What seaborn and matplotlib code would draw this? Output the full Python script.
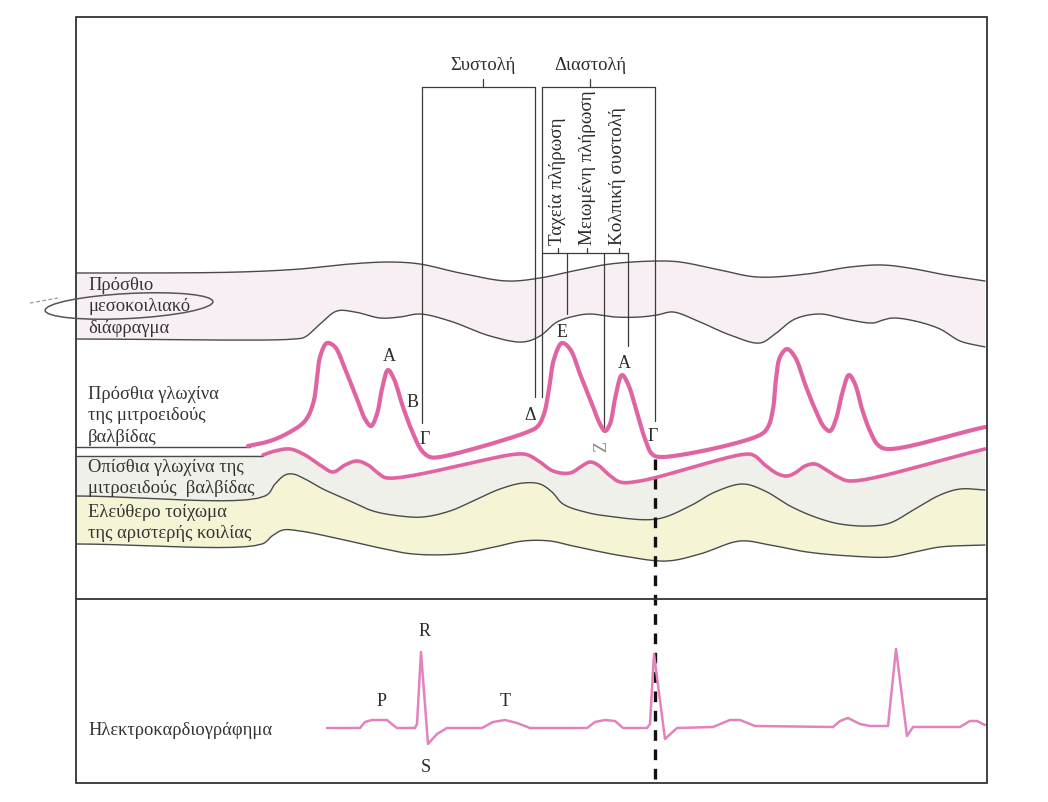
import numpy as np
import pandas as pd
import matplotlib
matplotlib.use("Agg")
import matplotlib.pyplot as plt
from matplotlib.patches import Ellipse, Rectangle
import seaborn as sns

# ---- traced outlines (x, y in drawing units; y grows downwards) ----
septum_top_x = [77, 150, 240, 300, 350, 390, 420, 460, 507, 540, 573, 610, 657, 680, 720, 757, 807, 850, 883, 915, 940, 985]
septum_top_y = [274, 274, 273, 270, 265, 263, 265, 274, 282, 279, 272, 265, 262, 263, 271, 278, 275, 268, 266, 270, 275, 282]

septum_bot_x = [77, 295, 305, 320, 337, 355, 380, 400, 420, 450, 490, 523, 540, 557, 575, 590, 615, 640, 657, 673, 700, 730, 760, 775, 795, 820, 845, 873, 883, 893, 915, 940, 960, 985]
septum_bot_y = [340, 340, 338, 325, 312, 313, 319, 318, 315, 322, 337, 343, 337, 323, 317, 315, 318, 318, 316, 313, 323, 336, 344, 335, 320, 315, 320, 324, 321, 319, 322, 330, 342, 348]

anterior_x = [248, 270, 290, 305, 313, 317, 320, 327, 335, 345, 357, 365, 371, 377, 382, 388, 394, 402, 412, 422, 430, 440,
              530, 538, 544, 549, 554, 562, 570, 580, 592, 600, 605, 610, 615, 622, 628, 636, 645, 652, 660,
              760, 768, 773, 776, 780, 787, 795, 805, 815, 824, 830, 836, 842, 849, 855, 862, 870, 878, 887, 985]
anterior_y = [447, 442, 433, 422, 405, 380, 358, 344, 348, 370, 400, 420, 427, 415, 390, 371, 380, 405, 432, 452, 458, 458,
              432, 427, 415, 390, 360, 344, 350, 375, 405, 425, 432, 425, 400, 376, 385, 410, 440, 455, 458,
              436, 428, 410, 380, 358, 350, 358, 385, 410, 428, 432, 420, 395, 376, 385, 410, 432, 446, 450, 428]

posterior_x = [263, 275, 290, 305, 320, 333, 345, 357, 368, 378, 387, 517, 528, 540, 553, 570, 582, 590, 598, 608, 620, 640,
               747, 755, 765, 778, 787, 795, 805, 815, 825, 838, 850, 985]
posterior_y = [456, 452, 450, 456, 466, 473, 466, 462, 466, 474, 479, 455, 456, 463, 472, 474, 467, 463, 466, 475, 483, 482,
               455, 457, 466, 475, 477, 474, 467, 465, 470, 478, 482, 450]

wall_top_x = [77, 265, 275, 285, 293, 305, 323, 350, 373, 400, 423, 450, 473, 500, 523, 540, 552, 563, 585, 607, 657, 690, 715, 743, 765, 790, 815, 840, 870, 890, 915, 940, 960, 985]
wall_top_y = [497, 497, 485, 476, 475, 480, 490, 502, 512, 517, 518, 512, 502, 490, 484, 485, 493, 505, 513, 517, 520, 507, 493, 485, 492, 507, 518, 525, 527, 524, 510, 496, 490, 491]

wall_bot_x = [77, 262, 272, 283, 300, 340, 380, 413, 457, 490, 523, 550, 573, 623, 667, 700, 740, 770, 807, 850, 890, 915, 940, 985]
wall_bot_y = [545, 545, 537, 531, 532, 540, 549, 555, 555, 549, 542, 542, 547, 557, 562, 555, 542, 546, 553, 557, 558, 553, 548, 546]

ecg_x = [327, 360, 365, 372, 387, 393, 397, 415, 417, 421, 428, 437, 447, 482, 493, 505, 517, 530, 587, 595, 605, 615, 623,
         647, 650, 654, 665, 677, 713, 730, 740, 755, 833, 840, 848, 860, 870, 888, 896, 907, 913, 960, 970, 977, 985]
ecg_y = [729, 729, 723, 721, 721, 726, 729, 729, 725, 653, 745, 735, 729, 729, 723, 721, 724, 729, 729, 723, 721, 722, 729,
         729, 725, 655, 740, 729, 728, 721, 721, 727, 728, 722, 719, 725, 727, 727, 650, 737, 728, 728, 722, 722, 726]

row_labels = ["Πρόσθιο\nμεσοκοιλιακό\nδιάφραγμα",
              "Πρόσθια γλωχίνα\nτης μιτροειδούς\nβαλβίδας",
              "Οπίσθια γλωχίνα της\nμιτροειδούς  βαλβίδας",
              "Ελεύθερο τοίχωμα\nτης αριστερής κοιλίας",
              "Ηλεκτροκαρδιογράφημα"]
row_label_y = [307, 416, 478, 523, 731]

phase_labels = ["Συστολή", "Διαστολή"]
sub_phase_labels = ["Ταχεία πλήρωση", "Μειωμένη πλήρωση", "Κολπική συστολή"]


def smooth(xs, ys, n=12, alpha=0.5):
    """Centripetal Catmull-Rom stroke through traced control points."""
    p = np.column_stack([xs, ys]).astype(float)
    p = np.vstack([2 * p[0] - p[1], p, 2 * p[-1] - p[-2]])
    out = []
    for i in range(1, len(p) - 2):
        p0, p1, p2, p3 = p[i - 1], p[i], p[i + 1], p[i + 2]
        t0 = 0.0
        t1 = t0 + max(np.linalg.norm(p1 - p0), 1e-6) ** alpha
        t2 = t1 + max(np.linalg.norm(p2 - p1), 1e-6) ** alpha
        t3 = t2 + max(np.linalg.norm(p3 - p2), 1e-6) ** alpha
        t = np.linspace(t1, t2, n, endpoint=False)[:, None]
        a1 = (t1 - t) / (t1 - t0) * p0 + (t - t0) / (t1 - t0) * p1
        a2 = (t2 - t) / (t2 - t1) * p1 + (t - t1) / (t2 - t1) * p2
        a3 = (t3 - t) / (t3 - t2) * p2 + (t - t2) / (t3 - t2) * p3
        b1 = (t2 - t) / (t2 - t0) * a1 + (t - t0) / (t2 - t0) * a2
        b2 = (t3 - t) / (t3 - t1) * a2 + (t - t1) / (t3 - t1) * a3
        c = (t2 - t) / (t2 - t1) * b1 + (t - t1) / (t2 - t1) * b2
        out.append(c)
    out.append(p[-2][None, :])
    out = np.vstack(out)
    return out[:, 0], out[:, 1]


sns.set_style("white")
plt.rcParams["font.family"] = ["Liberation Serif", "DejaVu Serif"]

fig = plt.figure(figsize=(10.48, 8.03), dpi=100)
ax = fig.add_axes([0, 0, 1, 1])
ax.set_xlim(0, 1048)
ax.set_ylim(803, 0)
ax.axis("off")

LINE = "#4a4a4a"
PINK = "#df64a1"
ECG_PINK = "#e383bd"

# ---- shaded bands ----
stx, sty = smooth(septum_top_x, septum_top_y)
sbx, sby = smooth(septum_bot_x, septum_bot_y)
ax.fill(np.r_[stx, sbx[::-1]], np.r_[sty, sby[::-1]], color="#f8eff5", lw=0, zorder=1)

px, py = smooth(posterior_x, posterior_y)
wtx, wty = smooth(wall_top_x, wall_top_y)
wbx, wby = smooth(wall_bot_x, wall_bot_y)
ax.fill(np.r_[77, px, wtx[::-1]], np.r_[457, py, wty[::-1]], color="#f0f0eb", lw=0, zorder=1)
ax.fill(np.r_[wtx, wbx[::-1]], np.r_[wty, wby[::-1]], color="#f5f4d5", lw=0, zorder=1)

# ---- band outlines ----
for xs, ys in [(stx, sty), (sbx, sby), (wtx, wty), (wbx, wby)]:
    sns.lineplot(x=xs, y=ys, sort=False, color=LINE, lw=1.0, ax=ax, zorder=3)
sns.lineplot(x=[77, 250], y=[448, 448], color=LINE, lw=1.0, ax=ax, zorder=3)
sns.lineplot(x=[77, 263], y=[457, 457], color=LINE, lw=1.0, ax=ax, zorder=3)

# ---- mitral leaflets ----
ax_, ay_ = smooth(anterior_x, anterior_y)
sns.lineplot(x=ax_, y=ay_, sort=False, color=PINK, lw=3.0, ax=ax, zorder=5,
             solid_capstyle="round", solid_joinstyle="round")
sns.lineplot(x=px, y=py, sort=False, color=PINK, lw=2.6, ax=ax, zorder=5,
             solid_capstyle="round", solid_joinstyle="round")

# ---- ECG ----
sns.lineplot(x=ecg_x, y=ecg_y, sort=False, color=ECG_PINK, lw=1.8, ax=ax, zorder=5,
             solid_joinstyle="round")

# ---- frame and divider ----
ax.add_patch(Rectangle((76, 18), 911, 766, fill=False, ec="#333333", lw=1.3, zorder=6))
ax.plot([76, 987], [600, 600], color="#333333", lw=1.3, zorder=6)
ax.plot([655, 655], [460, 784], color="#111111", lw=2.4, ls=(0, (3.2, 2.6)), zorder=4)

# ---- phase brackets ----
VL = dict(color="#3a3a3a", lw=0.9, zorder=4)
ax.plot([422, 535], [88, 88], **VL)
ax.plot([483, 483], [80, 88], **VL)
ax.plot([422, 422], [88, 424], **VL)
ax.plot([535, 535], [88, 398], **VL)
ax.plot([542, 655], [88, 88], **VL)
ax.plot([590, 590], [80, 88], **VL)
ax.plot([542, 542], [88, 398], **VL)
ax.plot([655, 655], [88, 422], **VL)
ax.plot([542, 628], [254, 254], **VL)
for tx in [558, 587, 619]:
    ax.plot([tx, tx], [249, 254], **VL)
ax.plot([567, 567], [254, 315], **VL)
ax.plot([604, 604], [254, 430], **VL)
ax.plot([628, 628], [254, 347], **VL)

TXT = "#2b2b2b"
ax.text(483, 66, phase_labels[0], ha="center", va="center", fontsize=13.3, color=TXT)
ax.text(590, 66, phase_labels[1], ha="center", va="center", fontsize=13.3, color=TXT)
for tx, lab in zip([557, 587, 618], sub_phase_labels):
    ax.text(tx, 245, lab, rotation=90, ha="center", va="bottom", fontsize=13.8, color=TXT)

# ---- row labels ----
for lab, yy in zip(row_labels, row_label_y):
    ax.text(88, yy, lab, ha="left", va="center", fontsize=13.3, color="#333333", linespacing=1.38)

# hand-drawn loop around the septum label
ax.add_patch(Ellipse((129, 307), 168, 25, angle=-3, fill=False, ec="#555555", lw=1.1, zorder=7))
ax.plot([30, 58], [304, 299], color="#999999", lw=0.9, ls=(0, (3, 2)), zorder=7)

# ---- point letters on the leaflet trace ----
marks = [("A", 389, 357), ("B", 413, 403), ("Γ", 425, 440), ("Δ", 530, 416), ("E", 562, 333),
         ("A", 624, 364), ("Γ", 653, 437)]
for lab, x, y in marks:
    ax.text(x, y, lab, ha="center", va="center", fontsize=13, color=TXT, zorder=8)
ax.text(602, 447, "Ζ", rotation=90, ha="center", va="center", fontsize=13, color="#8a8a80", zorder=8)

# ---- ECG letters ----
for lab, x, y in [("R", 425, 632), ("P", 382, 702), ("T", 505, 702), ("S", 426, 768)]:
    ax.text(x, y, lab, ha="center", va="center", fontsize=13, color=TXT, zorder=8)

fig.savefig("out.png", dpi=100, facecolor="white")
